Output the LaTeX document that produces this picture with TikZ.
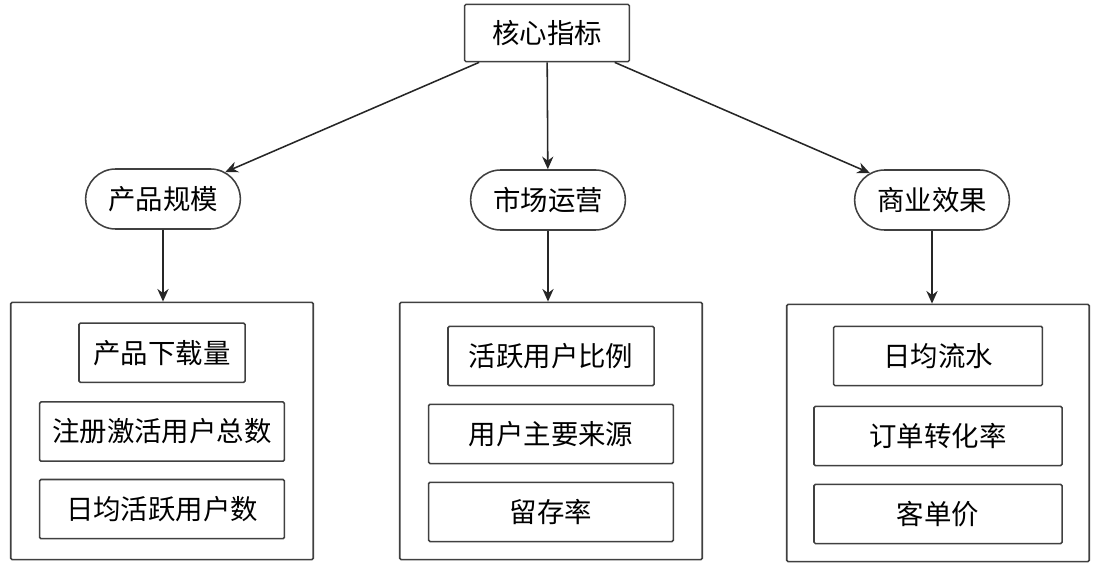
\documentclass[tikz,border=0pt]{standalone}
\usepackage{fontspec}
\setmainfont{Noto Sans CJK SC}
\usetikzlibrary{shapes.misc, arrows.meta, positioning}

\begin{document}
\begin{tikzpicture}[
    x=0.025cm, y=-0.025cm,
    font=\fontsize{19.5}{23}\selectfont,
    box/.style={draw=black!75, line width=1.1pt, rectangle, rounded corners=1pt, minimum height=1.48cm, minimum width=6.12cm, align=center, inner sep=0pt},
    pill/.style={draw=black!75, line width=1.1pt, rounded rectangle, minimum width=4.1cm, minimum height=1.5cm},
    group/.style={draw=black!75, line width=1.1pt, rectangle, rounded corners=1pt, minimum width=7.56cm, minimum height=6.43cm},
    arrow/.style={line width=1.1pt, black!85, -{Stealth[length=9pt, width=8pt]}}
]
\useasboundingbox (0,0) rectangle (1104,570);

\node (core) [box, minimum width=4.12cm, minimum height=1.43cm] at (547,33) {核心指标};

\node (scale) [pill] at (163,199) {产品规模};
\node (ops) [pill] at (548,200) {市场运营};
\node (biz) [pill] at (932,200) {商业效果};

\node (grpA) [group] at (162,431) {};
\node (grpB) [group] at (551,431) {};
\node (grpC) [group] at (938,433) {};

% product scale
\node (down) [box, minimum width=4.15cm, below=0.52cm of grpA.north] {产品下载量};
\node (reg) [box, below=0.45cm of down] {注册激活用户总数};
\node (dau) [box, below=0.42cm of reg] {日均活跃用户数};

% operations
\node (active) [box, minimum width=5.15cm, below=0.6cm of grpB.north] {活跃用户比例};
\node (source) [box, below=0.43cm of active] {用户主要来源};
\node (retain) [box, below=0.43cm of source] {留存率};

% business
\node (gmv) [box, minimum width=5.22cm, below=0.55cm of grpC.north] {日均流水};
\node (conv) [box, minimum width=6.2cm, below=0.48cm of gmv] {订单转化率};
\node (price) [box, minimum width=6.2cm, below=0.43cm of conv] {客单价};

\draw [arrow] (core) -- (scale);
\draw [arrow] (core) -- (ops);
\draw [arrow] (core) -- (biz);
\draw [arrow] (scale) -- (scale |- grpA.north);
\draw [arrow] (ops) -- (ops |- grpB.north);
\draw [arrow] (biz) -- (biz |- grpC.north);
\end{tikzpicture}
\end{document}
